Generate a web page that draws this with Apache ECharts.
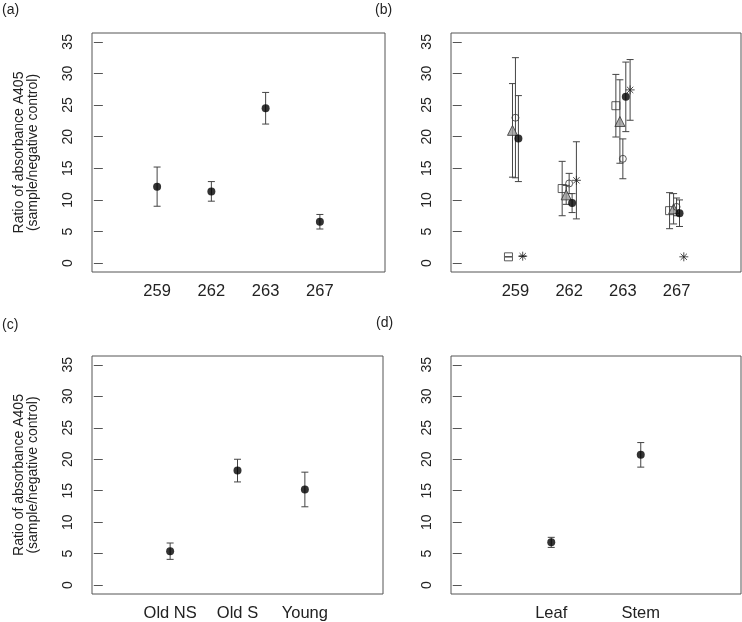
<!DOCTYPE html>
<html>
<head>
<meta charset="utf-8">
<script src="https://cdn.jsdelivr.net/npm/echarts@6/dist/echarts.min.js"></script>
<style>
  html, body { margin: 0; padding: 0; background: #fff; }
  #chart { width: 742px; height: 622px; }
</style>
</head>
<body>
<div id="chart"></div>
<script>
// tick labels
const yTicks = [0, 5, 10, 15, 20, 25, 30, 35]
const linesA = ['259', '262', '263', '267']
const ageGroups = ['Old NS', 'Old S', 'Young']
const organs = ['Leaf', 'Stem']

// (a) per line
const meanA = [12.1, 11.35, 24.5, 6.55]
const errA = [3.1, 1.55, 2.5, 1.15]

// (b) per line, five groups
const bSquare = [1.0, 11.8, 24.9, 8.3]
const bSquareErr = [0, 4.3, 4.95, 2.85]
const bTriangle = [21.0, 10.8, 22.4, 8.6]
const bTriangleErr = [7.4, 1.5, 6.6, 2.4]
const bCircle = [23.0, 12.6, 16.5, 8.9]
const bCircleErr = [9.5, 1.6, 3.15, 1.4]
const bFilled = [19.7, 9.5, 26.3, 7.9]
const bFilledErr = [6.8, 1.5, 5.5, 2.1]
const bStar = [1.1, 13.1, 27.4, 1.0]
const bStarErr = [0, 6.1, 4.8, null]

// (c) per age
const meanC = [5.4, 18.2, 15.2]
const errC = [1.3, 1.8, 2.75]

// (d) per organ
const meanD = [6.8, 20.7]
const errD = [0.8, 1.95]

const chart = echarts.init(document.getElementById('chart'))

const frameColor = '#555'
const barColor = '#444'
const textColor = '#222'
const font = 'Liberation Sans, Arial, sans-serif'

const grids = [
  { left: 92, top: 33, width: 293, height: 239 },
  { left: 451, top: 33, width: 290, height: 239 },
  { left: 92, top: 356, width: 291, height: 239 },
  { left: 451, top: 356, width: 290, height: 239 },
].map(g => ({ ...g, show: true, borderColor: frameColor, borderWidth: 1, containLabel: false }))

const xAxisFor = (gridIndex, labels, pad) => ({
  type: 'value',
  gridIndex,
  min: -pad,
  max: labels.length + 1 + pad,
  axisLine: { show: false },
  axisTick: { show: false },
  splitLine: { show: false },
  axisLabel: {
    customValues: labels.map((_, i) => i + 1),
    formatter: v => labels[Math.round(v) - 1] || '',
    fontSize: 16.5,
    fontFamily: font,
    color: textColor,
    margin: 11,
  },
})

const yAxisFor = (gridIndex, withName) => ({
  type: 'value',
  gridIndex,
  min: -1.4,
  max: 36.4,
  axisLine: { show: false },
  splitLine: { show: false },
  axisTick: { show: true, customValues: yTicks, length: 9, lineStyle: { color: frameColor } },
  axisLabel: {
    customValues: yTicks,
    rotate: 90,
    fontSize: 14,
    fontFamily: font,
    color: textColor,
    margin: 17,
  },
  name: withName ? 'Ratio of absorbance A405\n(sample/negative control)' : '',
  nameLocation: 'middle',
  nameRotate: 90,
  nameGap: 52,
  nameTextStyle: { fontSize: 14, fontFamily: font, color: textColor, lineHeight: 14 },
})

// vertical error bar with caps
const errorBars = (idx, means, errs, shift) => ({
  type: 'custom',
  xAxisIndex: idx,
  yAxisIndex: idx,
  silent: true,
  data: means
    .map((m, i) => (errs[i] == null ? null : [i + 1 + shift, m - errs[i], m + errs[i]]))
    .filter(d => d),
  encode: { x: 0, y: [1, 2] },
  renderItem: (params, api) => {
    const x = api.value(0)
    const lo = api.coord([x, api.value(1)])
    const hi = api.coord([x, api.value(2)])
    const w = 3.5
    const style = { stroke: barColor, lineWidth: 1 }
    return {
      type: 'group',
      children: [
        { type: 'line', shape: { x1: lo[0], y1: lo[1], x2: hi[0], y2: hi[1] }, style },
        { type: 'line', shape: { x1: lo[0] - w, y1: lo[1], x2: lo[0] + w, y2: lo[1] }, style },
        { type: 'line', shape: { x1: hi[0] - w, y1: hi[1], x2: hi[0] + w, y2: hi[1] }, style },
      ],
    }
  },
  z: 2,
})

const points = (idx, name, means, shift, symbol, size, itemStyle) => ({
  type: 'scatter',
  name,
  xAxisIndex: idx,
  yAxisIndex: idx,
  data: means.map((m, i) => [i + 1 + shift, m]),
  symbol,
  symbolSize: size,
  itemStyle,
  z: 3,
})

const filledDot = { color: '#000' }
const asterisk = 'path://M5,0L5,10M0,5L10,5M1.5,1.5L8.5,8.5M1.5,8.5L8.5,1.5'
const hollow = { color: 'none', borderColor: '#333', borderWidth: 1 }

// horizontal dodge of the five groups in (b)
const dodge = [-0.13, -0.055, 0, 0.055, 0.135]
const groupsB = [
  ['Square', bSquare, bSquareErr, 'rect', 8, hollow],
  ['Triangle', bTriangle, bTriangleErr, 'triangle', 10, { color: '#999', borderColor: '#333', borderWidth: 1 }],
  ['Open circle', bCircle, bCircleErr, 'circle', 7, hollow],
  ['Filled circle', bFilled, bFilledErr, 'circle', 8, filledDot],
  ['Asterisk', bStar, bStarErr, asterisk, 9, { color: 'none', borderColor: '#222', borderWidth: 1 }],
]

const seriesB = []
groupsB.forEach(([name, m, e, sym, size, style], k) => {
  seriesB.push(errorBars(1, m, e, dodge[k]))
  seriesB.push(points(1, name, m, dodge[k], sym, size, style))
})

const panelTag = (text, left, top) => ({
  type: 'text',
  left,
  top,
  style: { text, fontSize: 14, fontFamily: font, fill: textColor },
})

chart.setOption({
  animation: false,
  backgroundColor: '#fff',
  grid: grids,
  xAxis: [
    xAxisFor(0, linesA, 0.2),
    xAxisFor(1, linesA, 0.2),
    xAxisFor(2, ageGroups, 0.16),
    xAxisFor(3, organs, 0.12),
  ],
  yAxis: [yAxisFor(0, true), yAxisFor(1, false), yAxisFor(2, true), yAxisFor(3, false)],
  graphic: [
    panelTag('(a)', 2, 3),
    panelTag('(b)', 375, 3),
    panelTag('(c)', 2, 318),
    panelTag('(d)', 376, 316),
  ],
  series: [
    errorBars(0, meanA, errA, 0),
    points(0, 'Mean', meanA, 0, 'circle', 8, filledDot),
    ...seriesB,
    errorBars(2, meanC, errC, 0),
    points(2, 'Mean', meanC, 0, 'circle', 8, filledDot),
    errorBars(3, meanD, errD, 0),
    points(3, 'Mean', meanD, 0, 'circle', 8, filledDot),
  ],
})
</script>
</body>
</html>
